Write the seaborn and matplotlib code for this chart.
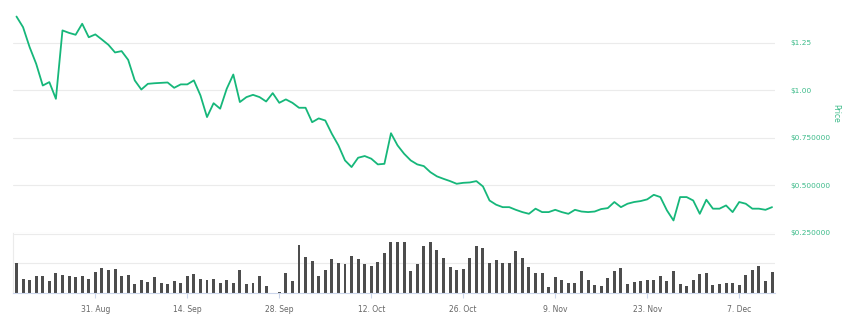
import numpy as np
import pandas as pd
import matplotlib
matplotlib.use("Agg")
import matplotlib.pyplot as plt
import seaborn as sns

# ---------------- data ----------------
start_date = "2020-08-19"
price = [1.389, 1.333, 1.228, 1.140, 1.026, 1.044, 0.956, 1.316, 1.303, 1.293,
         1.351, 1.280, 1.295, 1.268, 1.240, 1.200, 1.207, 1.161, 1.053, 1.005,
         1.035, 1.038, 1.040, 1.042, 1.014, 1.032, 1.032, 1.053, 0.974, 0.860,
         0.933, 0.904, 1.009, 1.084, 0.939, 0.965, 0.977, 0.965, 0.942, 0.986,
         0.935, 0.953, 0.935, 0.909, 0.909, 0.833, 0.853, 0.842, 0.772, 0.711,
         0.632, 0.597, 0.646, 0.655, 0.641, 0.611, 0.614, 0.775, 0.711, 0.667,
         0.632, 0.611, 0.602, 0.570, 0.548, 0.535, 0.523, 0.509, 0.514, 0.516,
         0.523, 0.495, 0.421, 0.399, 0.386, 0.386, 0.372, 0.360, 0.351, 0.378,
         0.360, 0.360, 0.372, 0.360, 0.351, 0.372, 0.363, 0.360, 0.363, 0.376,
         0.381, 0.413, 0.386, 0.404, 0.413, 0.418, 0.427, 0.451, 0.439, 0.369,
         0.316, 0.439, 0.439, 0.421, 0.351, 0.425, 0.378, 0.378, 0.395, 0.360,
         0.413, 0.404, 0.378, 0.378, 0.372, 0.386]

volume = [1.01, 0.48, 0.45, 0.57, 0.57, 0.40, 0.69, 0.61, 0.59, 0.53,
          0.59, 0.46, 0.71, 0.83, 0.78, 0.82, 0.59, 0.61, 0.30, 0.43,
          0.37, 0.53, 0.33, 0.30, 0.39, 0.34, 0.59, 0.63, 0.48, 0.45,
          0.48, 0.33, 0.43, 0.33, 0.77, 0.29, 0.33, 0.57, 0.24, 0.00,
          0.05, 0.67, 0.40, 1.61, 1.23, 1.08, 0.57, 0.77, 1.15, 1.01,
          0.97, 1.25, 1.15, 0.97, 0.91, 1.06, 1.37, 1.72, 1.72, 1.72,
          0.74, 0.98, 1.60, 1.72, 1.47, 1.20, 0.89, 0.77, 0.82, 1.20,
          1.60, 1.52, 1.01, 1.11, 1.01, 1.01, 1.43, 1.20, 0.87, 0.69,
          0.69, 0.20, 0.53, 0.45, 0.34, 0.33, 0.74, 0.45, 0.28, 0.25,
          0.51, 0.74, 0.86, 0.31, 0.37, 0.40, 0.43, 0.45, 0.56, 0.40,
          0.75, 0.30, 0.23, 0.43, 0.63, 0.68, 0.28, 0.29, 0.34, 0.34,
          0.28, 0.62, 0.78, 0.90, 0.39, 0.71]

tick_dates = ["2020-08-31", "2020-09-14", "2020-09-28", "2020-10-12",
              "2020-10-26", "2020-11-09", "2020-11-23", "2020-12-07"]
tick_labels = ["31. Aug", "14. Sep", "28. Sep", "12. Oct",
               "26. Oct", "9. Nov", "23. Nov", "7. Dec"]
price_ticks = [0.25, 0.50, 0.75, 1.00, 1.25]
price_tick_labels = ["$0.250000", "$0.500000", "$0.750000", "$1.00", "$1.25"]

# ---------------- build frame ----------------
dates = pd.date_range(start_date, periods=len(price), freq="D")
df = pd.DataFrame({"day": (dates - dates[0]).days, "price": price, "volume": volume})
tick_pos = [(pd.Timestamp(d) - dates[0]).days for d in tick_dates]

sns.set_theme(style="white")
plt.rcParams["font.family"] = ["DejaVu Sans"]

W, H = 850, 314
fig = plt.figure(figsize=(W / 100, H / 100), dpi=100)
fig.patch.set_facecolor("white")

left, right = 13, 775
ax_p = fig.add_axes([left / W, (H - 233) / H, (right - left) / W, 233 / H])
ax_v = fig.add_axes([left / W, (H - 293) / H, (right - left) / W, 60 / H])

green = "#16b77a"
label_green = "#3dbb8a"
grid_c = "#ebebeb"
axis_c = "#ccd6eb"

xlim = (-0.53, 115.45)

# price line
sns.lineplot(data=df, x="day", y="price", ax=ax_p, color=green, linewidth=1.3)
ax_p.set_xlim(*xlim)
ax_p.set_ylim(0.25, 1.476)
ax_p.set_xticks([])
ax_p.set_xlabel("")
ax_p.set_ylabel("")
ax_p.set_yticks(price_ticks)
ax_p.set_yticklabels(price_tick_labels)
ax_p.yaxis.tick_right()
ax_p.tick_params(axis="y", length=0, pad=11, labelsize=5.3, labelcolor=label_green)
ax_p.grid(axis="y", color=grid_c, linewidth=0.8)
ax_p.set_axisbelow(True)
for s in ax_p.spines.values():
    s.set_visible(False)
ax_p.patch.set_alpha(0)
fig.text(836 / W, 1 - 113 / H, "Price", rotation=270, ha="center", va="center",
         fontsize=5.5, color=label_green)

# volume bars
sns.barplot(data=df, x="day", y="volume", ax=ax_v, native_scale=True,
            color="#4d4d4d", width=0.45, saturation=1, linewidth=0,
            edgecolor="none")
ax_v.set_xlim(*xlim)
ax_v.set_ylim(0, 2.03)
ax_v.set_yticks([1, 2])
ax_v.set_yticklabels([])
ax_v.tick_params(axis="y", length=0)
ax_v.grid(axis="y", color=grid_c, linewidth=0.8)
ax_v.set_axisbelow(True)
ax_v.set_xlabel("")
ax_v.set_ylabel("")
ax_v.set_xticks(tick_pos)
ax_v.set_xticklabels(tick_labels)
ax_v.tick_params(axis="x", length=3.5, width=0.8, color=axis_c, pad=5,
                 labelsize=5.5, labelcolor="#666666", bottom=True)
for k in ["top", "right"]:
    ax_v.spines[k].set_visible(False)
ax_v.spines["bottom"].set_color(axis_c)
ax_v.spines["bottom"].set_linewidth(0.8)
ax_v.spines["left"].set_color(grid_c)
ax_v.spines["left"].set_linewidth(0.8)
ax_v.patch.set_alpha(0)

fig.savefig("out.png", dpi=100, facecolor="white")
